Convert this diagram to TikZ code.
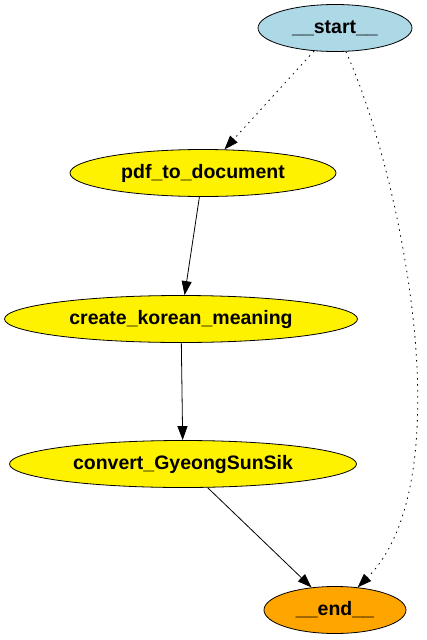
\documentclass[tikz,border=0pt]{standalone}
\usepackage{fontspec}
\setmainfont{Liberation Sans}
\usetikzlibrary{shapes.geometric,arrows.meta}
\definecolor{lightblue}{RGB}{173,216,230}
\definecolor{gvorange}{RGB}{255,165,0}

\tikzset{
  state/.style={ellipse, draw=black, thick, inner sep=0pt, minimum height=47pt,
    font=\fontsize{19.5}{22}\selectfont\bfseries},
  edge/.style={-{Triangle[length=14pt,width=10pt]}, thick},
  optional/.style={dash pattern=on 1.5pt off 4.5pt},
}

\begin{document}
\begin{tikzpicture}[x=1pt,y=-1pt]
\useasboundingbox (0,0) rectangle (426,640);
%\draw[draw=black] (0,0) rectangle (426,640);
\node[state, fill=lightblue, minimum width=154pt] (start) at (335,28) {\_\_start\_\_};
\node[state, fill=yellow, minimum width=266pt] (pdf) at (203,173) {pdf\_to\_document};
\node[state, fill=yellow, minimum width=353pt] (korean) at (181,319) {create\_korean\_meaning};
\node[state, fill=yellow, minimum width=347pt] (convert) at (183,464) {convert\_GyeongSunSik};
\node[state, fill=gvorange, minimum width=142pt] (end) at (335,610) {\_\_end\_\_};
\draw[edge, optional] (start) -- (pdf);
\draw[edge] (pdf) -- (korean);
\draw[edge] (korean) -- (convert);
\draw[edge] (convert) -- (end);
\draw[edge, optional] (start) .. controls (400,170) and (465,480) .. (end);
\end{tikzpicture}
\end{document}
